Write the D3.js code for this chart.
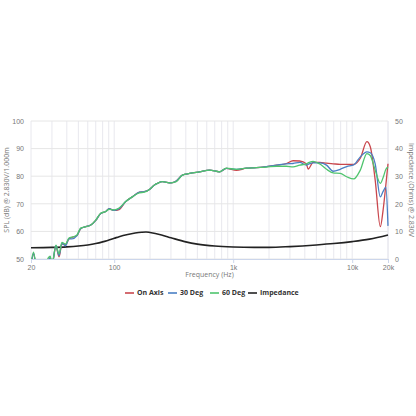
<!DOCTYPE html>
<html>
<head>
<meta charset="utf-8">
<script src="https://cdn.jsdelivr.net/npm/d3@7"></script>
<style>
body { margin: 0; background: #fff; }
svg { font-family: "Open Sans", "DejaVu Sans", sans-serif; }
</style>
</head>
<body>
<svg id="chart" width="416" height="416"></svg>
<script>
// frequencies the SPL curves were read at (Hz)
var freqs = [20, 21, 22.5, 25, 28, 29, 30, 32.4, 34.4, 36.4, 39, 41.7, 44, 48.7, 52.3, 57.7, 63.6, 70, 77, 85, 90.7, 100, 110,
	125, 143, 163, 179, 198, 218, 231, 254, 301, 332, 374, 430, 522, 633, 768, 875, 1063, 1292, 1567, 1903, 2312, 2806,
	3185, 3625, 4114, 4266, 4700, 5353, 6090, 6922, 7927, 9000, 10300, 11700, 13300, 14190, 15610, 17240, 18200, 19200, 20000];

var onAxis = [47, 52, 45, 44, 49.5, 50.5, 48, 54.5, 50.8, 55.5, 55.2, 57.3, 57.8, 58.5, 61, 61.7, 62.3, 64, 66.5, 67.2, 68.2, 67.6, 67.9,
	70.8, 72.6, 74.2, 74.4, 75.2, 76.8, 77.4, 78, 77.6, 78.2, 80.4, 81, 81.6, 82.2, 81.6, 82.8, 82.1, 82.9, 83.1, 83.5, 84, 84.6,
	85.6, 85.5, 84.5, 82.6, 85, 85, 84.7, 84.5, 84.3, 84.3, 84.3, 86.5, 92.5, 90.7, 78.6, 61.7, 67.8, 77, 84.5];

var deg30 = [47, 52, 45, 44, 49.5, 50.5, 48, 54.8, 51.2, 55.7, 54.8, 57.3, 57.3, 58.5, 61, 61.7, 62.3, 64, 66.5, 67.2, 68.2, 67.6, 68.2,
	70.8, 72.6, 74.2, 74.4, 75.2, 76.8, 77.4, 78, 77.6, 78.2, 80.4, 81, 81.6, 82.2, 81.6, 82.8, 82.5, 82.9, 83.1, 83.5, 84, 84.5,
	84.6, 85, 84, 84.3, 84.8, 84.8, 84, 81.8, 82.5, 83.5, 84.1, 87, 88.8, 88.5, 84.5, 72.5, 74.5, 76, 62];

var deg60 = [48, 52.5, 45, 44, 50.5, 51, 48, 55, 51.8, 56, 55.4, 57.6, 57.9, 58.7, 61.2, 61.7, 62.3, 64.1, 66.6, 67.2, 68, 67.8, 68.5,
	70.8, 72.6, 74, 74.2, 75.2, 76.8, 77.4, 78, 77.6, 78, 80.4, 81, 81.6, 82.2, 81.6, 82.9, 82.5, 82.9, 83.1, 83.3, 83.6, 83.6,
	83.4, 84, 84.5, 84.8, 85.4, 84.4, 82.5, 81.2, 81, 79.8, 79, 82.2, 88.2, 87.5, 82.2, 77.4, 79.5, 82.5, 83.3];

// impedance curve (Ohms)
var impFreqs = [20, 30, 40, 50, 60, 70, 80, 100, 110, 130, 150, 170, 185, 200, 250, 300, 400, 500, 700, 1000, 1500, 2000, 3000,
	5000, 7000, 10000, 14000, 20000];
var impedance = [4.1, 4.2, 4.4, 4.7, 5.1, 5.6, 6.2, 7.5, 8.1, 8.9, 9.4, 9.7, 9.8, 9.6, 8.7, 7.7, 6.2, 5.4, 4.7, 4.35, 4.2, 4.2, 4.5,
	5.1, 5.6, 6.3, 7.2, 8.7];

var xTicks = [20, 100, 1000, 10000, 20000];
var xTickLabels = ["20", "100", "1k", "10k", "20k"];
var splTicks = [50, 60, 70, 80, 90, 100];
var impTicks = [0, 10, 20, 30, 40, 50];

var seriesNames = ["On Axis", "30 Deg", "60 Deg", "Impedance"];
var seriesColors = ["#c9474d", "#4a7fc4", "#4fc46e", "#222222"];

var svg = d3.select("#chart");
var plotL = 31, plotR = 388, plotT = 121, plotB = 259;

var x = d3.scaleLog().domain([20, 20000]).range([plotL, plotR]);
var ySpl = d3.scaleLinear().domain([50, 100]).range([plotB, plotT]);
var yImp = d3.scaleLinear().domain([0, 50]).range([plotB, plotT]);

//vertical grid on every log step
var gridFreqs = [];
[10, 100, 1000, 10000].forEach(function(dec){
	for(var k = 1; k < 10; k++){
		var f = dec * k;
		if(f >= 20 && f <= 20000) gridFreqs.push(f);
	}
});
gridFreqs.push(20000);

svg.append("g").selectAll("line").data(gridFreqs).enter().append("line")
	.attr("x1", function(d){ return x(d); })
	.attr("x2", function(d){ return x(d); })
	.attr("y1", plotT).attr("y2", plotB)
	.style("stroke", "#e8e8ee").style("stroke-width", 1);

svg.append("g").selectAll("line").data(splTicks).enter().append("line")
	.attr("x1", plotL).attr("x2", plotR)
	.attr("y1", function(d){ return ySpl(d); })
	.attr("y2", function(d){ return ySpl(d); })
	.style("stroke", "#e6e6e6").style("stroke-width", 1);

// bottom axis
var xAxis = d3.axisBottom(x).tickValues(xTicks)
	.tickFormat(function(d, i){ return xTickLabels[i]; })
	.tickSize(4).tickPadding(2);
var gx = svg.append("g").attr("transform", "translate(0," + plotB + ")").call(xAxis);
gx.select(".domain").style("stroke", "#ccd6eb");
gx.selectAll(".tick line").style("stroke", "#ccd6eb");
gx.selectAll("text").style("fill", "#777").style("font-size", "7px");

var gl = svg.append("g").attr("transform", "translate(" + plotL + ",0)")
	.call(d3.axisLeft(ySpl).tickValues(splTicks).tickSize(0).tickPadding(7));
gl.select(".domain").remove();
gl.selectAll("text").style("fill", "#777").style("font-size", "7px");

var gr = svg.append("g").attr("transform", "translate(" + plotR + ",0)")
	.call(d3.axisRight(yImp).tickValues(impTicks).tickSize(0).tickPadding(7));
gr.select(".domain").remove();
gr.selectAll("text").style("fill", "#777").style("font-size", "7px");

// axis titles
svg.append("text")
	.attr("transform", "translate(7," + ((plotT + plotB) / 2) + ") rotate(-90)")
	.attr("text-anchor", "middle")
	.attr("dominant-baseline", "middle")
	.style("font-size", "7px").style("fill", "#777")
	.text("SPL (dB) @ 2.830V/1.000m");

svg.append("text")
	.attr("transform", "translate(411," + ((plotT + plotB) / 2) + ") rotate(90)")
	.attr("text-anchor", "middle")
	.attr("dominant-baseline", "middle")
	.style("font-size", "7px").style("fill", "#777")
	.text("Impedance (Ohms) @ 2.830V");

svg.append("text")
	.attr("x", (plotL + plotR) / 2).attr("y", 277)
	.attr("text-anchor", "middle")
	.style("font-size", "7px").style("fill", "#777")
	.text("Frequency (Hz)");

// curves, clipped to the plot
svg.append("clipPath").attr("id", "plotClip").append("rect")
	.attr("x", plotL).attr("y", plotT - 1).attr("width", plotR - plotL + 1).attr("height", plotB - plotT + 1);

var plot = svg.append("g").attr("clip-path", "url(#plotClip)");

var splLine = d3.line()
	.x(function(d){ return x(d[0]); })
	.y(function(d){ return ySpl(d[1]); })
	.curve(d3.curveMonotoneX);

var impLine = d3.line()
	.x(function(d){ return x(d[0]); })
	.y(function(d){ return yImp(d[1]); })
	.curve(d3.curveMonotoneX);

plot.append("path")
	.datum(impFreqs.map(function(f, i){ return [f, impedance[i]]; }))
	.attr("d", impLine)
	.style("fill", "none").style("stroke", seriesColors[3]).style("stroke-width", 1.6);

[onAxis, deg30, deg60].forEach(function(vals, s){
	plot.append("path")
		.datum(freqs.map(function(f, i){ return [f, vals[i]]; }))
		.attr("d", splLine)
		.style("fill", "none").style("stroke", seriesColors[s]).style("stroke-width", 1.3);
});

// legend
var legendX = [125, 168, 210, 248];
var legend = svg.append("g").selectAll("g").data(seriesNames).enter().append("g")
	.attr("transform", function(d, i){ return "translate(" + legendX[i] + ",293)"; });
legend.append("line")
	.attr("x1", 0).attr("x2", 9).attr("y1", 0).attr("y2", 0)
	.style("stroke", function(d, i){ return seriesColors[i]; })
	.style("stroke-width", 1.6);
legend.append("text")
	.attr("x", 12).attr("y", 0)
	.attr("dominant-baseline", "middle")
	.style("font-size", "7px").style("font-weight", "bold").style("fill", "#333")
	.text(function(d){ return d; });
</script>
</body>
</html>
